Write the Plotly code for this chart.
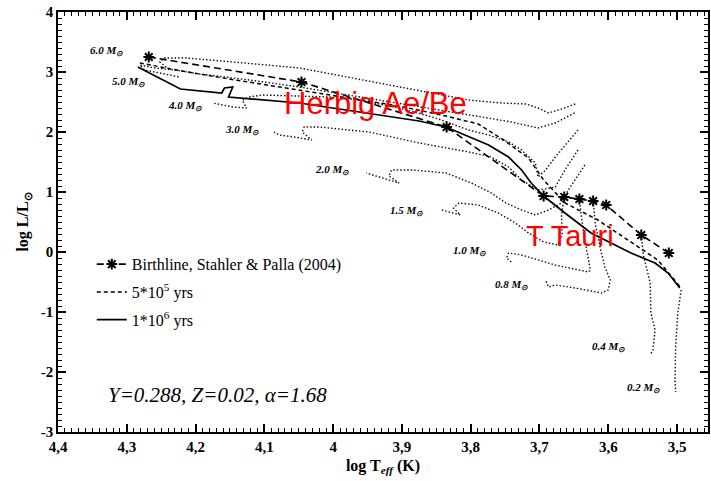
import plotly.graph_objects as go

# ---------------- data (log Teff, log L/Lsun) ----------------
track_masses = ["6.0", "5.0", "4.0", "3.0", "2.0", "1.5", "1.0", "0.8", "0.4", "0.2"]

t60_x = [3.648, 3.668, 3.687, 3.702, 3.720, 3.755, 3.803, 3.880, 3.962, 4.049, 4.146, 4.213, 4.245, 4.252, 4.241]
t60_y = [2.467, 2.383, 2.317, 2.400, 2.467, 2.483, 2.533, 2.700, 2.867, 3.067, 3.167, 3.233, 3.233, 3.167, 3.067]

t50_x = [3.649, 3.677, 3.702, 3.741, 3.784, 3.846, 3.904, 3.977, 4.049, 4.122, 4.194, 4.230, 4.259, 4.281, 4.274, 4.252, 4.223]
t50_y = [2.317, 2.150, 2.067, 2.167, 2.250, 2.367, 2.483, 2.617, 2.750, 2.867, 2.967, 3.033, 3.067, 3.117, 3.033, 2.983, 2.917]

t40_x = [3.644, 3.677, 3.691, 3.702, 3.706, 3.726, 3.745, 3.774, 3.803, 3.851, 3.904, 3.962, 4.006, 4.103, 4.122, 4.132, 4.126, 4.146, 4.175]
t40_y = [2.033, 1.583, 1.367, 1.250, 1.483, 1.700, 1.833, 1.950, 2.033, 2.233, 2.400, 2.533, 2.583, 2.617, 2.583, 2.533, 2.400, 2.417, 2.483]

t30_x = [3.644, 3.663, 3.677, 3.702, 3.726, 3.745, 3.770, 3.803, 3.875, 3.948, 4.020, 4.042, 4.045, 4.031, 4.057, 4.078, 4.086]
t30_y = [1.700, 1.367, 1.083, 1.033, 1.200, 1.417, 1.583, 1.667, 1.817, 2.000, 2.083, 2.083, 2.000, 1.867, 1.917, 1.950, 2.000]

t20_x = [3.634, 3.658, 3.668, 3.687, 3.706, 3.726, 3.749, 3.770, 3.799, 3.836, 3.886, 3.915, 3.919, 3.904, 3.933, 3.952]
t20_y = [1.450, 1.033, 0.817, 0.700, 0.617, 0.700, 0.817, 0.983, 1.150, 1.317, 1.367, 1.367, 1.267, 1.150, 1.250, 1.317]

t15_x = [3.664, 3.668, 3.667, 3.673, 3.694, 3.716, 3.735, 3.760, 3.789, 3.817, 3.825, 3.815, 3.842]
t15_y = [0.900, 0.617, 0.283, 0.117, 0.167, 0.317, 0.483, 0.650, 0.783, 0.817, 0.733, 0.617, 0.700]

t10_x = [3.642, 3.639, 3.634, 3.629, 3.626, 3.629, 3.677, 3.726, 3.745, 3.748, 3.741]
t10_y = [0.900, 0.583, 0.200, -0.083, -0.300, -0.333, -0.217, -0.050, -0.017, -0.100, -0.167]

t08_x = [3.622, 3.619, 3.612, 3.605, 3.597, 3.600, 3.610, 3.648, 3.677, 3.687, 3.691]
t08_y = [0.850, 0.483, 0.083, -0.250, -0.467, -0.633, -0.683, -0.600, -0.550, -0.583, -0.467]

t04_x = [3.552, 3.549, 3.539, 3.538, 3.532, 3.535, 3.539]
t04_y = [0.283, -0.050, -0.517, -1.017, -1.300, -1.633, -1.717]

t02_x = [3.494, 3.499, 3.502, 3.503, 3.502]
t02_y = [-0.633, -1.017, -1.583, -2.133, -2.333]

birth_x = [4.268, 4.046, 3.835, 3.694, 3.664, 3.642, 3.622, 3.603, 3.552, 3.512]
birth_y = [3.250, 2.833, 2.083, 0.933, 0.917, 0.883, 0.850, 0.783, 0.283, -0.017]

iso5e5_x = [4.281, 4.220, 4.151, 4.049, 3.977, 3.904, 3.836, 3.789, 3.752, 3.716, 3.694, 3.673, 3.663, 3.615, 3.557, 3.528, 3.494]
iso5e5_y = [3.150, 3.017, 2.883, 2.700, 2.567, 2.433, 2.267, 2.133, 1.867, 1.567, 1.200, 0.933, 0.817, 0.533, 0.083, -0.133, -0.600]

iso1e6_x = [4.284, 4.222, 4.162, 4.158, 4.146, 4.152, 4.049, 3.933, 3.875, 3.836, 3.803, 3.774, 3.745, 3.726, 3.712, 3.694, 3.663, 3.625, 3.567, 3.532, 3.513, 3.496]
iso1e6_y = [3.083, 2.717, 2.650, 2.733, 2.750, 2.583, 2.483, 2.283, 2.183, 2.083, 1.917, 1.783, 1.583, 1.367, 1.150, 0.933, 0.650, 0.317, -0.017, -0.183, -0.350, -0.600]

x_tickvals = [4.4, 4.3, 4.2, 4.1, 4.0, 3.9, 3.8, 3.7, 3.6, 3.5]
x_ticktext = ["4,4", "4,3", "4,2", "4,1", "4", "3,9", "3,8", "3,7", "3,6", "3,5"]
y_tickvals = [-3, -2, -1, 0, 1, 2, 3, 4]
y_ticktext = ["-3", "-2", "-1", "0", "1", "2", "3", "4"]

# label anchor positions for the mass labels (data coords)
label_x = [4.330, 4.297, 4.215, 4.133, 4.002, 3.893, 3.802, 3.741, 3.600, 3.549]
label_y = [3.35, 2.833, 2.433, 2.033, 1.367, 0.683, 0.017, -0.55, -1.583, -2.267]

tracks = [(t60_x, t60_y), (t50_x, t50_y), (t40_x, t40_y), (t30_x, t30_y), (t20_x, t20_y),
          (t15_x, t15_y), (t10_x, t10_y), (t08_x, t08_y), (t04_x, t04_y), (t02_x, t02_y)]

SERIF = "Liberation Serif, Times New Roman, serif"

fig = go.Figure()

for (tx, ty), m in zip(tracks, track_masses):
    fig.add_trace(go.Scatter(x=tx, y=ty, mode="lines", showlegend=False,
                             line=dict(color="#111", width=1.4, dash="1.5px,2px"),
                             hoverinfo="skip", name=m + " Msun", legendgroup="tracks"))

fig.add_trace(go.Scatter(x=birth_x, y=birth_y, mode="lines+markers",
                         name="Birthline, Stahler & Palla (2004)", legendgroup="a",
                         line=dict(color="black", width=1.6, dash="7px,4px"),
                         marker=dict(symbol="asterisk-open", size=9, color="black",
                                     line=dict(color="black", width=2))))
fig.add_trace(go.Scatter(x=iso5e5_x, y=iso5e5_y, mode="lines", legendgroup="b",
                         name="5*10<sup>5</sup> yrs",
                         line=dict(color="black", width=1.5, dash="4px,3px")))
fig.add_trace(go.Scatter(x=iso1e6_x, y=iso1e6_y, mode="lines", legendgroup="c",
                         name="1*10<sup>6</sup> yrs",
                         line=dict(color="black", width=1.7)))

for lx, ly, m in zip(label_x, label_y, track_masses):
    fig.add_annotation(x=lx, y=ly, text="<b><i>" + m + " M<sub>⊙</sub></i></b>",
                       showarrow=False, font=dict(family=SERIF, size=11, color="black"))

fig.add_annotation(x=3.939, y=2.483, text="Herbig Ae/Be", showarrow=False,
                   font=dict(family="Liberation Sans, Arial, sans-serif", size=31, color="red"))
fig.add_annotation(x=3.655, y=0.267, text="T Tauri", showarrow=False,
                   font=dict(family="Liberation Sans, Arial, sans-serif", size=29, color="red"))
fig.add_annotation(x=4.168, y=-2.383, text="<i>Y=0.288, Z=0.02, α=1.68</i>", showarrow=False,
                   font=dict(family=SERIF, size=21, color="black"))

axis_common = dict(showgrid=False, zeroline=False, showline=True, linecolor="black",
                   linewidth=1.5, mirror="allticks", ticks="inside", ticklen=8,
                   tickwidth=1.5, tickcolor="black",
                   tickfont=dict(family=SERIF, size=15, color="black", weight="bold"))

fig.update_xaxes(range=[4.4, 3.455], tickmode="array", tickvals=x_tickvals, ticktext=x_ticktext,
                 minor=dict(tickmode="linear", tick0=4.4, dtick=0.01, ticks="inside",
                            ticklen=4, tickwidth=1, tickcolor="black"),
                 title=dict(text="<b>log T<sub><i>eff</i></sub> (K)</b>", standoff=6,
                            font=dict(family=SERIF, size=16, color="black")),
                 **axis_common)
fig.update_yaxes(range=[-3, 4], tickmode="array", tickvals=y_tickvals, ticktext=y_ticktext,
                 minor=dict(tickmode="linear", tick0=0, dtick=0.1, ticks="inside",
                            ticklen=4, tickwidth=1, tickcolor="black"),
                 title=dict(text="<b>log L/L<sub>⊙</sub></b>", standoff=8,
                            font=dict(family=SERIF, size=16, color="black")),
                 **axis_common)

fig.update_layout(width=711, height=481, margin=dict(l=58, r=1, t=12, b=49),
                  paper_bgcolor="white", plot_bgcolor="white",
                  legend=dict(x=0.052, y=0.44, xanchor="left", yanchor="top",
                              bgcolor="rgba(0,0,0,0)", tracegroupgap=4,
                              traceorder="grouped",
                              font=dict(family=SERIF, size=16, color="black")),
                  showlegend=True)

fig.write_html("out.html")
